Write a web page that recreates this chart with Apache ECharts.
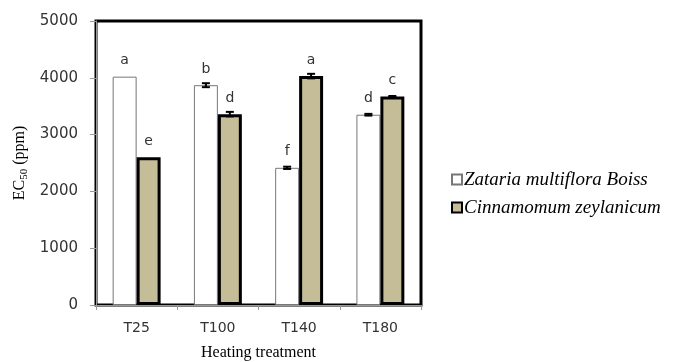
<!DOCTYPE html>
<html>
<head>
<meta charset="utf-8">
<script src="https://cdn.jsdelivr.net/npm/echarts@6/dist/echarts.min.js"></script>
<style>
  html, body { margin: 0; padding: 0; background: #fff; }
  #chart { width: 678px; height: 362px; }
</style>
</head>
<body>
<div id="chart"></div>
<script>
// Heating treatments on the x axis
var categories = ['T25', 'T100', 'T140', 'T180'];

// EC50 (ppm) means per treatment
var zatariaValues = [4020, 3870, 2415, 3350];
var cinnamonValues = [2600, 3360, 4030, 3670];

// Standard errors
var zatariaErrors = [0, 35, 20, 15];
var cinnamonErrors = [0, 40, 40, 10];

// Significance letters
var zatariaLetters = ['a', 'b', 'f', 'd'];
var cinnamonLetters = ['e', 'd', 'a', 'c'];

var yTicks = { min: 0, max: 5000, interval: 1000 };

var BAR_FRACTION = 0.295;

function errorItems(values, errors, side) {
  return values.map(function (v, i) { return [i, v, errors[i], side]; });
}

function renderError(params, api) {
  var idx = api.value(0);
  var val = api.value(1);
  var err = api.value(2);
  var side = api.value(3);
  if (!err) { return null; }
  var bw = api.size([1, 0])[0] * BAR_FRACTION;
  var hi = api.coord([idx, val + err]);
  var lo = api.coord([idx, val - err]);
  var x = hi[0] + side * bw / 2;
  var cap = 4;
  var style = { stroke: '#000', lineWidth: 2 };
  return {
    type: 'group',
    children: [
      { type: 'line', shape: { x1: x, y1: hi[1], x2: x, y2: lo[1] }, style: style },
      { type: 'line', shape: { x1: x - cap, y1: hi[1], x2: x + cap, y2: hi[1] }, style: style },
      { type: 'line', shape: { x1: x - cap, y1: lo[1], x2: x + cap, y2: lo[1] }, style: style }
    ]
  };
}

function letterLabel(letters) {
  return {
    show: true,
    position: 'top',
    distance: 9,
    fontFamily: 'DejaVu Sans',
    fontSize: 14,
    color: '#333',
    formatter: function (p) { return letters[p.dataIndex]; }
  };
}

var chart = echarts.init(document.getElementById('chart'), null, { renderer: 'canvas' });

chart.setOption({
  animation: false,
  backgroundColor: '#fff',
  grid: {
    left: 96, right: 257, top: 21, bottom: 57,
    outerBoundsMode: 'none',
    containLabel: false,
    show: true,
    borderColor: '#000',
    borderWidth: 3,
    backgroundColor: 'transparent'
  },
  legend: {
    orient: 'vertical',
    left: 446,
    top: 165,
    icon: 'rect',
    itemWidth: 10,
    itemHeight: 10,
    itemGap: 9,
    textStyle: {
      fontFamily: 'Liberation Serif',
      fontStyle: 'italic',
      fontSize: 19,
      color: '#000',
      padding: [0, 0, 0, -3]
    },
    data: ['Zataria multiflora Boiss', 'Cinnamomum zeylanicum']
  },
  xAxis: {
    type: 'category',
    data: categories,
    name: 'Heating treatment',
    nameLocation: 'middle',
    nameGap: 40,
    nameTextStyle: { fontFamily: 'Liberation Serif', fontSize: 16, color: '#000' },
    axisLine: { show: true, lineStyle: { color: '#999', width: 1 } },
    axisTick: { show: true, length: 5, lineStyle: { color: '#999' } },
    axisLabel: { fontFamily: 'DejaVu Sans', fontSize: 14, color: '#333', margin: 16 },
    splitLine: { show: false }
  },
  yAxis: {
    type: 'value',
    min: yTicks.min,
    max: yTicks.max,
    interval: yTicks.interval,
    name: '{a|EC}{s|50}{a| (ppm)}',
    nameLocation: 'middle',
    nameGap: 66,
    nameRotate: 90,
    nameTextStyle: {
      rich: {
        a: { fontFamily: 'Liberation Serif', fontSize: 16, color: '#000', lineHeight: 20 },
        s: { fontFamily: 'Liberation Serif', fontSize: 11, color: '#000', lineHeight: 20, verticalAlign: 'bottom', padding: [6, 0, 0, 0] }
      }
    },
    axisLine: { show: true, lineStyle: { color: '#999', width: 1 } },
    axisTick: { show: true, length: 6, lineStyle: { color: '#999' } },
    axisLabel: {
      fontFamily: 'DejaVu Sans', fontSize: 15, color: '#333', margin: 18,
      formatter: function (v) { return String(v); }
    },
    splitLine: { show: false }
  },
  series: [
    {
      name: 'Zataria multiflora Boiss',
      type: 'bar',
      data: zatariaValues,
      barWidth: (BAR_FRACTION * 100) + '%',
      barGap: '0%',
      itemStyle: { color: '#fff', borderColor: '#777', borderWidth: 1 },
      label: letterLabel(zatariaLetters),
      z: 3
    },
    {
      name: 'Cinnamomum zeylanicum',
      type: 'bar',
      data: cinnamonValues,
      barWidth: (BAR_FRACTION * 100) + '%',
      barGap: '0%',
      itemStyle: { color: '#c4bd97', borderColor: '#000', borderWidth: 3 },
      label: letterLabel(cinnamonLetters),
      z: 3
    },
    {
      name: 'errZ',
      type: 'custom',
      renderItem: renderError,
      data: errorItems(zatariaValues, zatariaErrors, -1),
      encode: { x: 0, y: 1 },
      z: 5,
      silent: true
    },
    {
      name: 'errC',
      type: 'custom',
      renderItem: renderError,
      data: errorItems(cinnamonValues, cinnamonErrors, 1),
      encode: { x: 0, y: 1 },
      z: 5,
      silent: true
    }
  ]
});
</script>
</body>
</html>
